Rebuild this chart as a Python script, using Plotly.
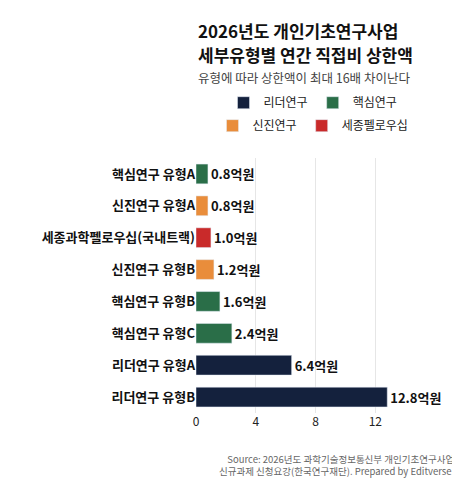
import plotly.graph_objects as go

categories = ["핵심연구 유형A", "신진연구 유형A", "세종과학펠로우십(국내트랙)", "신진연구 유형B",
              "핵심연구 유형B", "핵심연구 유형C", "리더연구 유형A", "리더연구 유형B"]
values = [0.8, 0.8, 1.0, 1.2, 1.6, 2.4, 6.4, 12.8]
groups = ["핵심연구", "신진연구", "세종펠로우십", "신진연구", "핵심연구", "핵심연구", "리더연구", "리더연구"]
group_order = ["리더연구", "핵심연구", "신진연구", "세종펠로우십"]
colors = {"리더연구": "#14213d", "핵심연구": "#2a6e48", "신진연구": "#e98d3b", "세종펠로우십": "#c92a2a"}
legend_of = {"리더연구": "legend", "핵심연구": "legend", "신진연구": "legend2", "세종펠로우십": "legend2"}

font = "Noto Sans CJK KR"
fig = go.Figure()
for g in group_order:
    ys = [c for c, gg in zip(categories, groups) if gg == g]
    xs = [v for v, gg in zip(values, groups) if gg == g]
    fig.add_trace(go.Bar(
        x=xs, y=ys, orientation="h", name=g, marker_color=colors[g], width=0.62,
        text=[f"<b>{v:.1f}억원</b>" for v in xs], textposition="outside",
        textfont=dict(size=13, color="#111"), cliponaxis=False, legend=legend_of[g]))

fig.update_layout(
    width=460, height=483, margin=dict(l=188, r=12, t=150, b=78),
    plot_bgcolor="white", paper_bgcolor="white", font=dict(family=font, color="#222"),
    bargap=0.3,
    legend=dict(orientation="h", x=0.45, y=1.16, xanchor="center", yanchor="bottom",
                font=dict(size=12), itemwidth=30, traceorder="normal"),
    legend2=dict(orientation="h", x=0.45, y=1.07, xanchor="center", yanchor="bottom",
                 font=dict(size=12), itemwidth=30, traceorder="normal"),
    xaxis=dict(range=[0, 17.4], tickvals=[0, 4, 8, 12], showgrid=True, gridcolor="#e6e6e6",
               zeroline=False, tickfont=dict(size=12)),
    yaxis=dict(categoryorder="array", categoryarray=categories, autorange="reversed",
               tickfont=dict(size=13, color="#111")),
)
fig.update_yaxes(tickprefix="<b>", ticksuffix="</b>")

fig.add_annotation(text="<b>2026년도 개인기초연구사업</b>", xref="paper", yref="paper", x=0, y=1.50,
                   xanchor="left", yanchor="middle", showarrow=False, font=dict(size=17, color="#111"))
fig.add_annotation(text="<b>세부유형별 연간 직접비 상한액</b>", xref="paper", yref="paper", x=0, y=1.405,
                   xanchor="left", yanchor="middle", showarrow=False, font=dict(size=17, color="#111"))
fig.add_annotation(text="유형에 따라 상한액이 최대 16배 차이난다", xref="paper", yref="paper", x=0, y=1.315,
                   xanchor="left", yanchor="middle", showarrow=False, font=dict(size=12.5, color="#444"))
fig.add_annotation(text="Source: 2026년도 과학기술정보통신부 개인기초연구사업<br>신규과제 신청요강(한국연구재단). Prepared by Editverse.",
                   xref="paper", yref="paper", x=1, y=-0.145, xanchor="right", yanchor="top", align="right",
                   showarrow=False, font=dict(size=9.5, color="#666"))

fig.write_html("out.html")
